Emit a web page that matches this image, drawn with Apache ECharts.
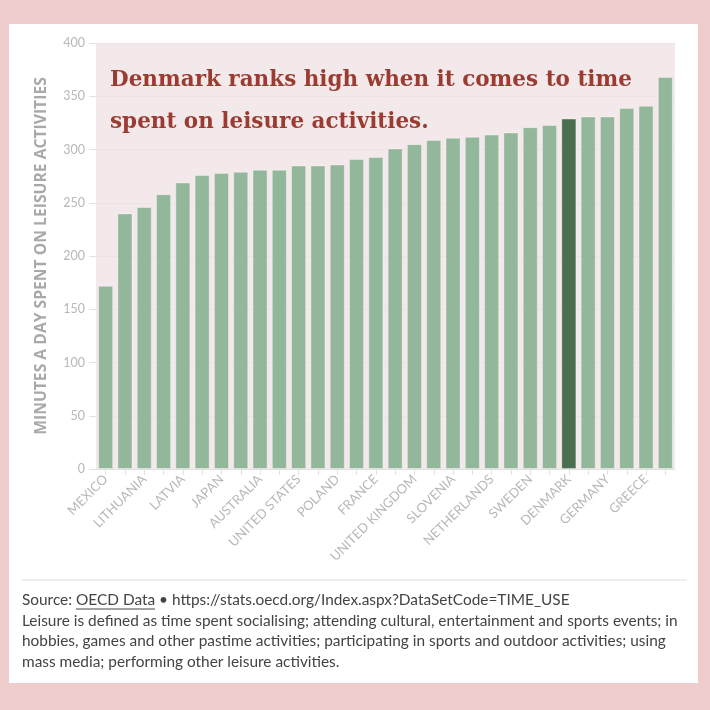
<!DOCTYPE html>
<html>
<head>
<meta charset="utf-8">
<script src="https://cdn.jsdelivr.net/npm/echarts@6/dist/echarts.min.js"></script>
<style>
  html, body { margin: 0; padding: 0; background: #f0cdcd; }
  #card { position: absolute; left: 9px; top: 24px; width: 689px; height: 659px; background: #fff; }
  #chart { position: absolute; left: 0; top: 0; width: 710px; height: 710px; }
</style>
</head>
<body>
<div id="card"></div>
<div id="chart"></div>
<script>
const countries = ['Mexico', 'Korea', 'Lithuania', 'Estonia', 'Latvia', 'Hungary', 'Japan', 'Canada',
  'Australia', 'Turkey', 'United States', 'Austria', 'Poland', 'Spain', 'France', 'Ireland',
  'United Kingdom', 'Italy', 'Slovenia', 'Luxembourg', 'Netherlands', 'Portugal', 'Sweden',
  'Finland', 'Denmark', 'New Zealand', 'Germany', 'Belgium', 'Greece', 'Norway'];
const minutes = [172, 240, 246, 258, 269, 276, 278, 279, 281, 281, 285, 285, 286, 291, 293,
  301, 305, 309, 311, 312, 314, 316, 321, 323, 329, 331, 331, 339, 341, 368];
const highlight = 'Denmark';

const titleLines = ['Denmark ranks high when it comes to time', 'spent on leisure activities.'];
const noteLines = [
  'Leisure is defined as time spent socialising; attending cultural, entertainment and sports events; in',
  'hobbies, games and other pastime activities; participating in sports and outdoor activities; using',
  'mass media; performing other leisure activities.'
];

const data = minutes.map((v, i) => {
  return {
    value: v,
    itemStyle: {color: countries[i] === highlight ? '#4a6e4f' : '#93b79a'}
  };
});

const myChart = echarts.init(document.getElementById('chart'));
myChart.setOption({
  backgroundColor: 'transparent',
  grid: {
    left: 96, right: 35, top: 43, bottom: 241,
    show: true, backgroundColor: '#f4e9ea', borderWidth: 0
  },
  xAxis: {
    type: 'category',
    data: countries.map((c) => c.toUpperCase()),
    axisLine: {lineStyle: {color: '#e2e2e2'}},
    axisTick: {show: true, interval: 0, alignWithLabel: true, length: 6, lineStyle: {color: '#e2e2e2'}},
    axisLabel: {
      interval: 1, rotate: 45, color: '#b8b8b8', fontSize: 13,
      fontFamily: 'Lato', margin: 8
    }
  },
  yAxis: {
    type: 'value',
    min: 0, max: 400, interval: 50,
    name: 'MINUTES A DAY SPENT ON LEISURE ACTIVITIES',
    nameLocation: 'middle',
    nameGap: 46,
    nameTextStyle: {color: '#a9a9a9', fontSize: 15.7, fontWeight: 'bold', fontFamily: 'Open Sans'},
    axisLine: {show: false},
    axisTick: {show: true, length: 7, lineStyle: {color: '#e2e2e2'}},
    axisLabel: {color: '#b8b8b8', fontSize: 12.5, fontFamily: 'Lato', margin: 11},
    splitLine: {lineStyle: {color: '#ebe3e4'}}
  },
  series: [{
    type: 'bar',
    data: data,
    barCategoryGap: '22%',
    itemStyle: {borderColor: 'rgba(255,255,255,0.35)', borderWidth: 1},
    z: 3
  }],
  graphic: [
    {
      type: 'text', left: 110, top: 59, z: 10,
      style: {
        text: titleLines.join('\n'), fill: '#9a3c32',
        font: 'bold 21.5px "DejaVu Serif"', lineHeight: 42
      }
    },
    {
      type: 'line', z: 10,
      shape: {x1: 22, y1: 580, x2: 687, y2: 580},
      style: {stroke: '#dddddd', lineWidth: 1}
    },
    {
      type: 'text', left: 22, top: 590, z: 10,
      style: {
        text: 'Source: OECD Data \u2022 https://stats.oecd.org/Index.aspx?DataSetCode=TIME_USE\n' + noteLines.join('\n'),
        fill: '#444', font: '15.4px Lato', lineHeight: 20.5
      }
    },
    {
      type: 'line', z: 10,
      shape: {x1: 76, y1: 609, x2: 155, y2: 609},
      style: {stroke: '#444', lineWidth: 1}
    }
  ]
});
</script>
</body>
</html>
